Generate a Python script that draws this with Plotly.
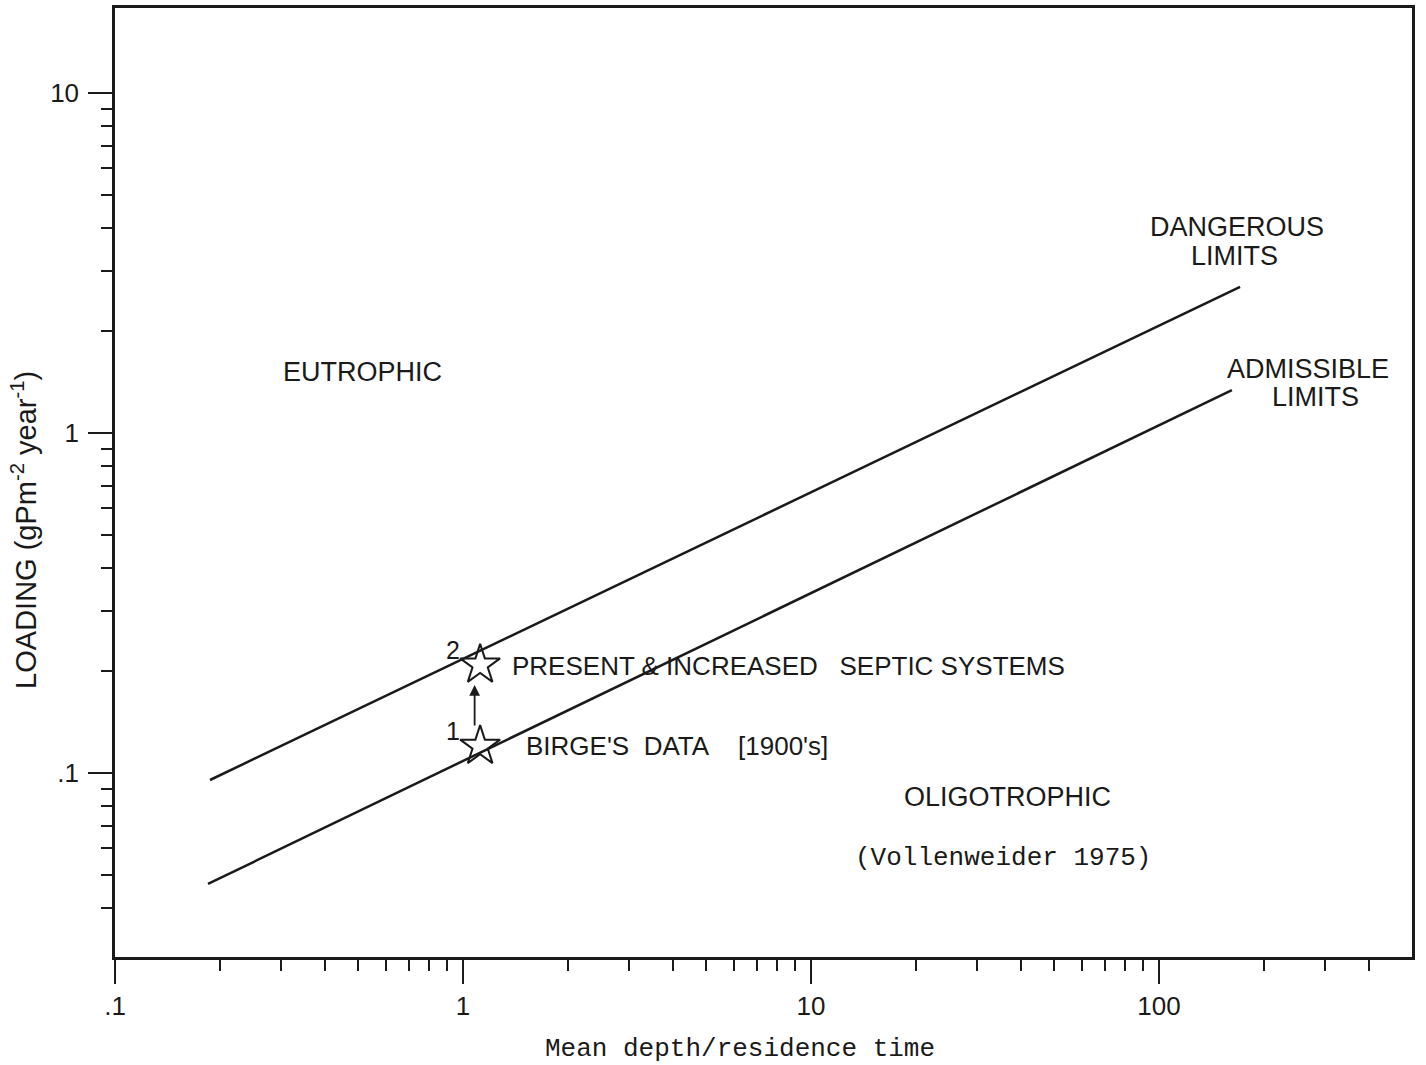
import math
import plotly.graph_objects as go

# ---- data ----
line_x = [0.1875, 171.0]          # dangerous limit line, mean depth / residence time
dangerous_y = [0.0954, 2.69]
adm_x = [0.185, 162.0]            # admissible limit line
admissible_y = [0.0472, 1.337]
star_x = [1.12, 1.12]
star_y = [0.120, 0.208]
star_labels = ["1", "2"]
arrow_x = 1.08
arrow_from_y = 0.1365
arrow_to_y = 0.1815

x_major = [0.1, 1, 10, 100]
x_major_text = [".1", "1", "10", "100"]
x_minor = [0.2, 0.3, 0.4, 0.5, 0.6, 0.7, 0.8, 0.9,
           2, 3, 4, 5, 6, 7, 8, 9,
           20, 30, 40, 50, 60, 70, 80, 90,
           200, 300, 400]
y_major = [0.1, 1, 10]
y_major_text = [".1", "1", "10"]
y_minor = [0.04, 0.05, 0.06, 0.07, 0.08, 0.09,
           0.2, 0.3, 0.4, 0.5, 0.6, 0.7, 0.8, 0.9,
           2, 3, 4, 5, 6, 7, 8, 9]

SANS = "Liberation Sans, Arial, sans-serif"
MONO = "Liberation Mono, Courier New, monospace"
INK = "#1a1a1a"

fig = go.Figure()
fig.add_trace(go.Scatter(x=line_x, y=dangerous_y, mode="lines",
                         line=dict(color=INK, width=2.5), showlegend=False))
fig.add_trace(go.Scatter(x=adm_x, y=admissible_y, mode="lines",
                         line=dict(color=INK, width=2.5), showlegend=False))
fig.add_trace(go.Scatter(x=star_x, y=star_y, mode="markers",
                         marker=dict(symbol="star-open", size=30, color=INK,
                                     line=dict(color=INK, width=2)),
                         showlegend=False))

ann = []
# star numbers
for sx, sy, lab in zip(star_x, star_y, star_labels):
    ann.append(dict(x=math.log10(sx), y=math.log10(sy), xref="x", yref="y",
                    text=lab, showarrow=False, xshift=-27, yshift=15,
                    font=dict(family=SANS, size=25, color=INK)))
# arrow from 1 to 2
ann.append(dict(x=math.log10(arrow_x), y=math.log10(arrow_to_y), xref="x", yref="y",
                ax=math.log10(arrow_x), ay=math.log10(arrow_from_y), axref="x", ayref="y",
                text="", showarrow=True, arrowhead=2, arrowsize=1.2, arrowwidth=1.8,
                arrowcolor=INK))

def label(x, y, text, size=27, family=SANS, xanchor="center"):
    ann.append(dict(x=x, y=y, xref="x", yref="y", text=text, showarrow=False,
                    xanchor=xanchor, yanchor="middle",
                    font=dict(family=family, size=size, color=INK)))

label(-0.29, 0.179, "EUTROPHIC", 27)
label(1.566, -1.071, "OLIGOTROPHIC", 27)
label(1.552, -1.25, "(Vollenweider 1975)", 26, MONO)
label(0.135, -0.685, "PRESENT &amp; INCREASED\u00a0\u00a0 SEPTIC SYSTEMS", 26, xanchor="left")
label(0.175, -0.921, "BIRGE'S\u00a0 DATA\u00a0\u00a0\u00a0 [1900's]", 26, xanchor="left")
label(2.224, 0.606, "DANGEROUS", 27)
label(2.218, 0.521, "LIMITS", 27)
label(2.428, 0.188, "ADMISSIBLE", 27)
label(2.451, 0.106, "LIMITS", 27)

# axis titles
ann.append(dict(x=-0.0702, y=0.45, xref="paper", yref="paper", textangle=-90,
                text="LOADING (gPm<sup>-2</sup> year<sup>-1</sup>)", showarrow=False,
                xanchor="center", yanchor="middle",
                font=dict(family=SANS, size=29, color=INK)))
ann.append(dict(x=0.482, y=-0.097, xref="paper", yref="paper",
                text="Mean depth/residence time", showarrow=False,
                xanchor="center", yanchor="middle",
                font=dict(family=MONO, size=26, color=INK)))

axis_common = dict(type="log", showgrid=False, zeroline=False,
                   showline=True, linecolor=INK, linewidth=2.5, mirror=True,
                   ticks="outside", ticklen=24, tickwidth=2, tickcolor=INK,
                   tickfont=dict(family=SANS, size=26, color=INK))

fig.update_xaxes(**axis_common, range=[-1, 2.727], tickmode="array",
                 tickvals=x_major, ticktext=x_major_text, ticklabelstandoff=0,
                 minor=dict(tickmode="array", tickvals=x_minor, ticks="outside",
                            ticklen=11, tickwidth=2, tickcolor=INK, showgrid=False))
fig.update_yaxes(**axis_common, range=[-1.541, 1.25], tickmode="array",
                 tickvals=y_major, ticktext=y_major_text, ticklabelstandoff=4,
                 minor=dict(tickmode="array", tickvals=y_minor, ticks="outside",
                            ticklen=11, tickwidth=2, tickcolor=INK, showgrid=False))

fig.update_layout(width=1426, height=1065,
                  margin=dict(l=115, r=14, t=8, b=108, autoexpand=False),
                  paper_bgcolor="white", plot_bgcolor="white",
                  annotations=ann, showlegend=False)

fig.write_html("out.html", config={"displayModeBar": False})
